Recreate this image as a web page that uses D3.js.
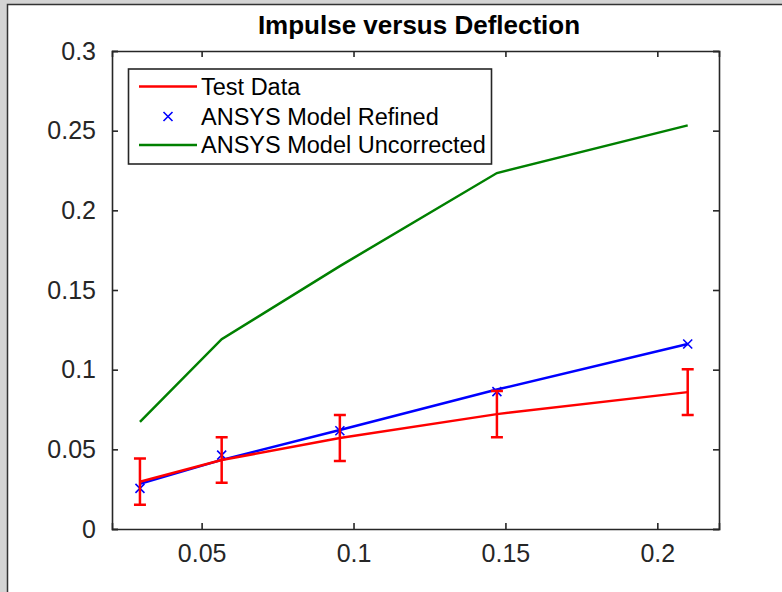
<!DOCTYPE html>
<html>
  <head>
    <meta charset="utf-8">
    <title>Impulse versus Deflection</title>
    <script src="https://cdn.jsdelivr.net/npm/d3@7"></script>
    <style>
      body { margin: 0; background: #ffffff; }
      svg { display: block; font-family: "Liberation Sans", Arial, Helvetica, sans-serif; }
      .tick text { fill: #262626; font-size: 25px; }
      .legend text { fill: #000; font-size: 23.5px; }
    </style>
  </head>
  <body>
    <svg class="chart"></svg>
    <script>

    // impulse values (x) and deflections (y)
    var impulse = [0.0297, 0.0566, 0.0955, 0.1472, 0.21];
    var testData = [0.0297, 0.0433, 0.0571, 0.0721, 0.0859];
    var testError = [0.0145, 0.0143, 0.0144, 0.0145, 0.0144];
    var refinedPoints = [0.0255, 0.0464, 0.0617, 0.0862, 0.1161];
    var refinedLine = [0.0283, 0.0434, 0.0621, 0.0875, 0.1161];
    var uncorrected = [0.0672, 0.1191, 0.165, 0.2234, 0.2533];

    var xTicks = [0.05, 0.1, 0.15, 0.2];
    var yTicks = [0, 0.05, 0.1, 0.15, 0.2, 0.25, 0.3];
    var legendNames = ["Test Data", "ANSYS Model Refined", "ANSYS Model Uncorrected"];

    var width = 782,
        height = 592;

    var plotLeft = 112, plotRight = 719, plotTop = 51, plotBottom = 529;
    var axisColor = "#262626";

    var svg = d3.select(".chart")
      .attr("width", width)
      .attr("height", height);

    // window frame around the figure
    svg.append("rect")
      .attr("width", width).attr("height", height)
      .attr("fill", "#d4d4d4");
    svg.append("rect")
      .attr("x", 7.5).attr("y", 4.5)
      .attr("width", width).attr("height", height)
      .attr("fill", "#fff")
      .attr("stroke", "#333")
      .attr("stroke-width", 1.5);

    var x = d3.scaleLinear()
      .domain([0.0205, 0.2203])
      .range([plotLeft, plotRight]);

    var y = d3.scaleLinear()
      .domain([0, 0.3])
      .range([plotBottom, plotTop]);

    var idx = d3.range(impulse.length);
    var fmt = function(d) { return String(+d.toFixed(2)); };

    // axes with inward ticks, box on
    svg.append("g")
      .attr("transform", "translate(0," + plotBottom + ")")
      .call(d3.axisBottom(x).tickValues(xTicks).tickSize(-6).tickPadding(15).tickFormat(fmt));
    svg.append("g")
      .attr("transform", "translate(" + plotLeft + ",0)")
      .call(d3.axisLeft(y).tickValues(yTicks).tickSize(-6).tickPadding(16).tickFormat(fmt));
    svg.append("g")
      .attr("transform", "translate(0," + plotTop + ")")
      .call(d3.axisTop(x).tickValues(xTicks).tickSize(-6).tickFormat(""));
    svg.append("g")
      .attr("transform", "translate(" + plotRight + ",0)")
      .call(d3.axisRight(y).tickValues(yTicks).tickSize(-6).tickFormat(""));

    svg.selectAll(".domain")
      .attr("stroke", axisColor)
      .attr("stroke-width", 1.6);
    svg.selectAll(".tick line")
      .attr("stroke", axisColor)
      .attr("stroke-width", 1.6);
    svg.selectAll(".tick text").attr("font-family", null);

    function lineOf(values) {
      return d3.line()
        .x(function(i) { return x(impulse[i]); })
        .y(function(i) { return y(values[i]); });
    }

    // uncorrected model
    svg.append("path")
      .attr("d", lineOf(uncorrected)(idx))
      .attr("fill", "none")
      .attr("stroke", "#008000")
      .attr("stroke-width", 2.5);

    // refined model line and markers
    svg.append("path")
      .attr("d", lineOf(refinedLine)(idx))
      .attr("fill", "none")
      .attr("stroke", "#0000ff")
      .attr("stroke-width", 2.5);

    var s = 4.5;
    svg.selectAll(".mark")
      .data(idx)
      .enter().append("path")
      .attr("class", "mark")
      .attr("d", function(i) {
        var cx = x(impulse[i]), cy = y(refinedPoints[i]);
        return "M" + (cx - s) + "," + (cy - s) + "L" + (cx + s) + "," + (cy + s) +
               "M" + (cx - s) + "," + (cy + s) + "L" + (cx + s) + "," + (cy - s);
      })
      .attr("stroke", "#0000ff")
      .attr("stroke-width", 1.6);

    // test data with error bars
    svg.append("path")
      .attr("d", lineOf(testData)(idx))
      .attr("fill", "none")
      .attr("stroke", "#ff0000")
      .attr("stroke-width", 2.5);

    var cap = 6;
    svg.selectAll(".err")
      .data(idx)
      .enter().append("path")
      .attr("class", "err")
      .attr("d", function(i) {
        var cx = x(impulse[i]),
            y0 = y(testData[i] - testError[i]),
            y1 = y(testData[i] + testError[i]);
        return "M" + cx + "," + y0 + "L" + cx + "," + y1 +
               "M" + (cx - cap) + "," + y1 + "L" + (cx + cap) + "," + y1 +
               "M" + (cx - cap) + "," + y0 + "L" + (cx + cap) + "," + y0;
      })
      .attr("fill", "none")
      .attr("stroke", "#ff0000")
      .attr("stroke-width", 2.5);

    // title
    svg.append("text")
      .attr("x", 419)
      .attr("y", 34)
      .attr("text-anchor", "middle")
      .attr("font-size", 26)
      .attr("font-weight", "bold")
      .text("Impulse versus Deflection");

    // legend
    var legend = svg.append("g").attr("class", "legend");
    legend.append("rect")
      .attr("x", 128.5).attr("y", 69)
      .attr("width", 363).attr("height", 95)
      .attr("fill", "#fff")
      .attr("stroke", axisColor)
      .attr("stroke-width", 1.6);

    var rowY = [86.5, 116.5, 145];
    var rows = legend.selectAll(".row")
      .data(legendNames)
      .enter().append("g")
      .attr("class", "row")
      .attr("transform", function(d, i) { return "translate(0," + rowY[i] + ")"; });

    rows.append("text")
      .attr("x", 201)
      .attr("dy", "0.35em")
      .text(function(d) { return d; });

    rows.filter(function(d, i) { return i !== 1; })
      .append("line")
      .attr("x1", 139).attr("x2", 197)
      .attr("stroke", function(d, i) { return i === 0 ? "#ff0000" : "#008000"; })
      .attr("stroke-width", 2.5);

    rows.filter(function(d, i) { return i === 1; })
      .append("path")
      .attr("d", "M" + (168 - s) + "," + (-s) + "L" + (168 + s) + "," + s +
                 "M" + (168 - s) + "," + s + "L" + (168 + s) + "," + (-s))
      .attr("stroke", "#0000ff")
      .attr("stroke-width", 1.6);

    </script>
  </body>
</html>
